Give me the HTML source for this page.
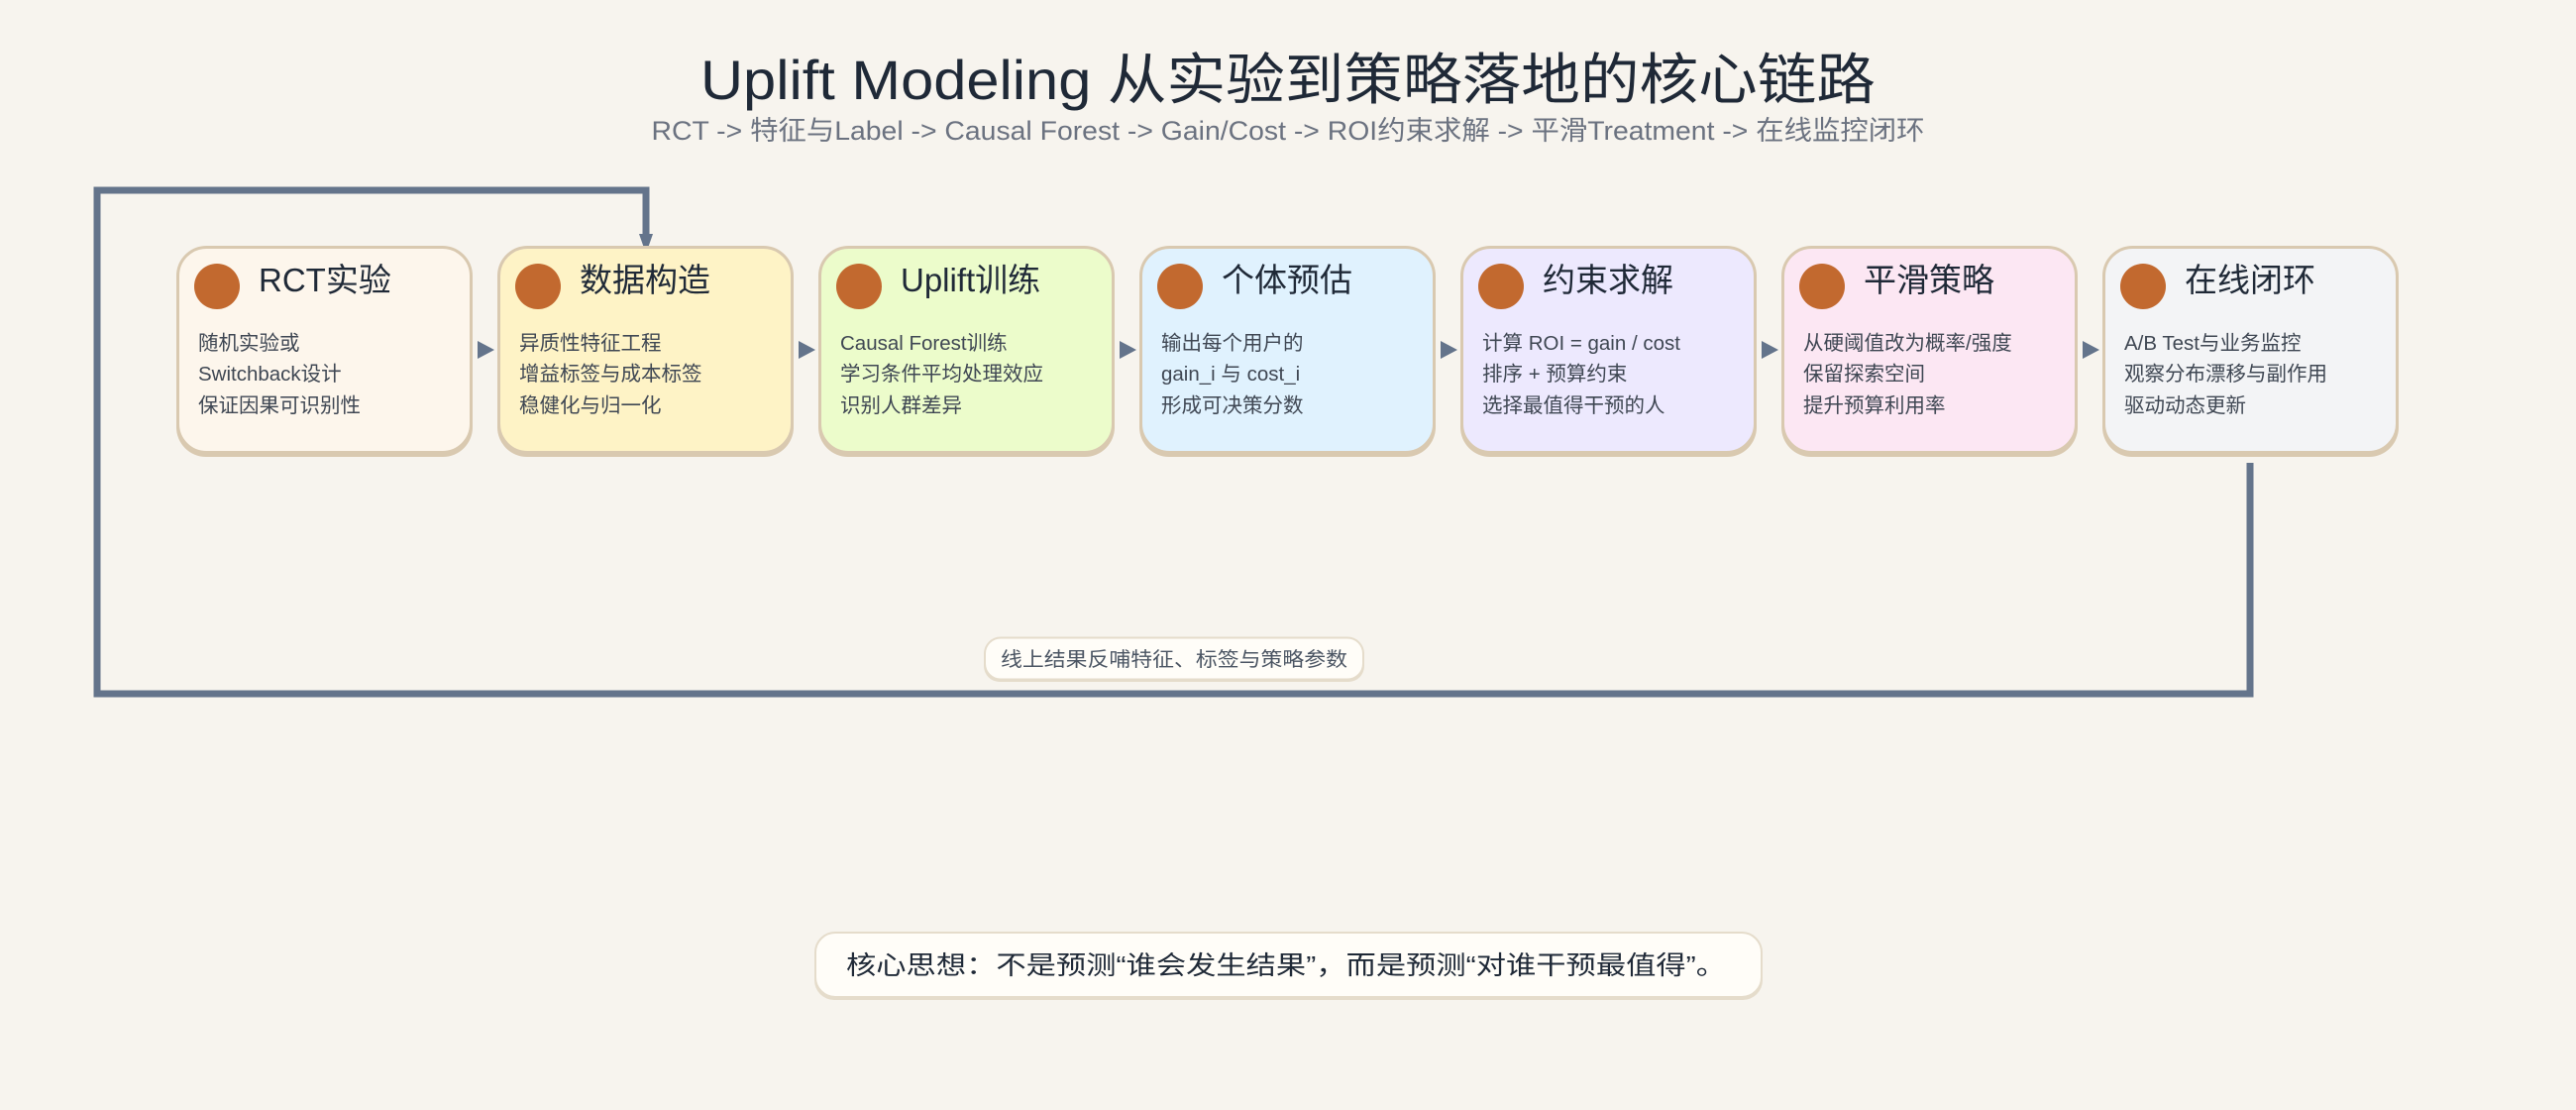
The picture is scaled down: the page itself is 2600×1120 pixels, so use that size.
<!DOCTYPE html>
<html><head><meta charset="utf-8"><style>
html,body{margin:0;padding:0;background:#f7f4ee;}
svg{display:block;}
text{font-family:"Liberation Sans","Noto Sans CJK SC",sans-serif;}
</style></head><body>
<svg width="2600" height="1120" viewBox="0 0 2600 1120" xmlns="http://www.w3.org/2000/svg">
<rect width="2600" height="1120" fill="#f7f4ee"/>
<text x="1300" y="100" text-anchor="middle" font-size="56" fill="#1f2937" textLength="1186" lengthAdjust="spacingAndGlyphs">Uplift Modeling 从实验到策略落地的核心链路</text>
<text x="1300" y="141" text-anchor="middle" font-size="27" fill="#6b7280" textLength="1285" lengthAdjust="spacingAndGlyphs">RCT -&gt; 特征与Label -&gt; Causal Forest -&gt; Gain/Cost -&gt; ROI约束求解 -&gt; 平滑Treatment -&gt; 在线监控闭环</text>

<polyline points="2271,467 2271,700 98,700 98,192 652,192 652,240" fill="none" stroke="#64748b" stroke-width="7"/>
<polygon points="645,236 659,236 652,256" fill="#64748b"/>

<g>
<rect x="178" y="251" width="299" height="210" rx="30" fill="#d9c9b0"/>
<rect x="179.5" y="249.5" width="296" height="207" rx="29" fill="#fdf6ec" stroke="#d9c9b0" stroke-width="3"/>
<rect x="502" y="251" width="299" height="210" rx="30" fill="#d9c9b0"/>
<rect x="503.5" y="249.5" width="296" height="207" rx="29" fill="#fef3c6" stroke="#d9c9b0" stroke-width="3"/>
<rect x="826" y="251" width="299" height="210" rx="30" fill="#d9c9b0"/>
<rect x="827.5" y="249.5" width="296" height="207" rx="29" fill="#ecfccb" stroke="#d9c9b0" stroke-width="3"/>
<rect x="1150" y="251" width="299" height="210" rx="30" fill="#d9c9b0"/>
<rect x="1151.5" y="249.5" width="296" height="207" rx="29" fill="#e0f2fe" stroke="#d9c9b0" stroke-width="3"/>
<rect x="1474" y="251" width="299" height="210" rx="30" fill="#d9c9b0"/>
<rect x="1475.5" y="249.5" width="296" height="207" rx="29" fill="#ede9fe" stroke="#d9c9b0" stroke-width="3"/>
<rect x="1798" y="251" width="299" height="210" rx="30" fill="#d9c9b0"/>
<rect x="1799.5" y="249.5" width="296" height="207" rx="29" fill="#fce7f3" stroke="#d9c9b0" stroke-width="3"/>
<rect x="2122" y="251" width="299" height="210" rx="30" fill="#d9c9b0"/>
<rect x="2123.5" y="249.5" width="296" height="207" rx="29" fill="#f3f4f6" stroke="#d9c9b0" stroke-width="3"/>
</g>

<g fill="#c2692f">
<circle cx="219" cy="289" r="23"/><circle cx="543" cy="289" r="23"/><circle cx="867" cy="289" r="23"/><circle cx="1191" cy="289" r="23"/><circle cx="1515" cy="289" r="23"/><circle cx="1839" cy="289" r="23"/><circle cx="2163" cy="289" r="23"/>
</g>

<g fill="#64748b">
<polygon points="482,344 499,353 482,362"/>
<polygon points="806,344 823,353 806,362"/>
<polygon points="1130,344 1147,353 1130,362"/>
<polygon points="1454,344 1471,353 1454,362"/>
<polygon points="1778,344 1795,353 1778,362"/>
<polygon points="2102,344 2119,353 2102,362"/>
</g>

<g font-size="33" fill="#1f2937">
<text x="261" y="294">RCT实验</text>
<text x="585" y="294">数据构造</text>
<text x="909" y="294">Uplift训练</text>
<text x="1233" y="294">个体预估</text>
<text x="1557" y="294">约束求解</text>
<text x="1881" y="294">平滑策略</text>
<text x="2205" y="294">在线闭环</text>
</g>

<g font-size="20.5" fill="#3f4753">
<text x="200" y="353">随机实验或</text>
<text x="200" y="384">Switchback设计</text>
<text x="200" y="416">保证因果可识别性</text>
<text x="524" y="353">异质性特征工程</text>
<text x="524" y="384">增益标签与成本标签</text>
<text x="524" y="416">稳健化与归一化</text>
<text x="848" y="353">Causal Forest训练</text>
<text x="848" y="384">学习条件平均处理效应</text>
<text x="848" y="416">识别人群差异</text>
<text x="1172" y="353">输出每个用户的</text>
<text x="1172" y="384">gain_i 与 cost_i</text>
<text x="1172" y="416">形成可决策分数</text>
<text x="1496" y="353">计算 ROI = gain / cost</text>
<text x="1496" y="384">排序 + 预算约束</text>
<text x="1496" y="416">选择最值得干预的人</text>
<text x="1820" y="353">从硬阈值改为概率/强度</text>
<text x="1820" y="384">保留探索空间</text>
<text x="1820" y="416">提升预算利用率</text>
<text x="2144" y="353">A/B Test与业务监控</text>
<text x="2144" y="384">观察分布漂移与副作用</text>
<text x="2144" y="416">驱动动态更新</text>
</g>

<rect x="993" y="645" width="384" height="43" rx="16" fill="#e5dccb"/>
<rect x="994" y="643.5" width="382" height="42" rx="16" fill="#fffdf8" stroke="#e5dccb" stroke-width="2"/>
<text x="1185" y="672" text-anchor="middle" font-size="20" fill="#4b5563" textLength="350" lengthAdjust="spacingAndGlyphs">线上结果反哺特征、标签与策略参数</text>

<rect x="822" y="943" width="957" height="66" rx="20" fill="#e5dccb"/>
<rect x="823" y="941" width="955" height="65" rx="20" fill="#fffdf8" stroke="#e5dccb" stroke-width="2"/>
<text x="854" y="983" font-size="26" fill="#1f2937" textLength="888" lengthAdjust="spacingAndGlyphs">核心思想：不是预测“谁会发生结果”，而是预测“对谁干预最值得”。</text>
</svg>
</body></html>
